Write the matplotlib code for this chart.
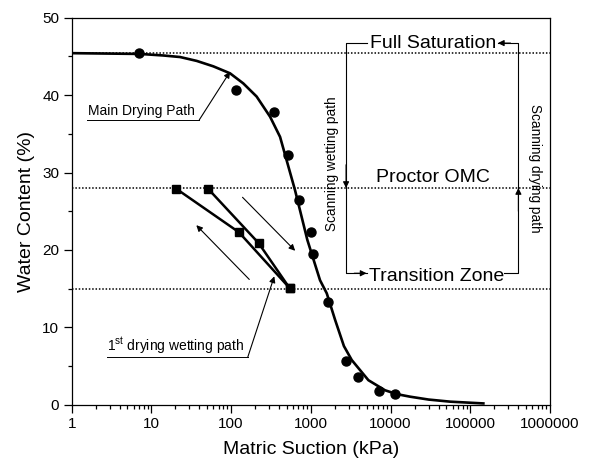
import numpy as np
import matplotlib
matplotlib.use('Agg')
import matplotlib.pyplot as plt
from matplotlib.ticker import FixedLocator, LogLocator, NullFormatter

plt.rcParams['font.family'] = ['Liberation Sans', 'DejaVu Sans']

# valeurs mesurees (courbe principale de sechage)
suction_meas = [7, 115, 349, 514, 701, 1012, 1052, 1643, 2773, 3950, 7240, 11400]
water_meas = [45.4, 40.6, 37.8, 32.2, 26.4, 22.3, 19.5, 13.3, 5.7, 3.6, 1.8, 1.4]

# courbe ajustee
fit_suction = [1, 7.2, 14.1, 22.9, 37, 59.8, 96.9, 142, 209, 308, 411, 634, 904,
               1304, 1585, 2013, 2600, 3260, 5270, 8520, 12000, 17600, 30000,
               55800, 146000]
fit_water = [45.4, 45.3, 45.1, 44.9, 44.4, 43.7, 42.8, 41.5, 39.8, 37.2, 34.6,
             27.7, 21.3, 16.1, 14.4, 11.0, 7.6, 5.8, 3.2, 1.9, 1.4, 1.07, 0.7,
             0.43, 0.2]

# premier cycle sechage / humidification
path1_suction = [20.5, 125, 540]
path1_water = [27.9, 22.3, 15.1]
path2_suction = [51.4, 221, 540]
path2_water = [27.9, 20.9, 15.1]

# niveaux de reference
full_sat = 45.4
proctor_omc = 28.0
transition = 15.0

x_ticks = [1, 10, 100, 1000, 10000, 100000, 1000000]
x_labels = ['1', '10', '100', '1000', '10000', '100000', '1000000']
y_ticks = [0, 10, 20, 30, 40, 50]

fig = plt.figure(figsize=(5.91, 4.67), dpi=100)
ax = fig.add_axes([0.1213, 0.1328, 0.8093, 0.8297])

# lignes horizontales pointillees
for lvl in [full_sat, proctor_omc, transition]:
    ax.axhline(lvl, color='black', linestyle=(0, (1, 1.2)), linewidth=1.1, zorder=1)

ax.plot(fit_suction, fit_water, color='black', linewidth=1.9, zorder=3)
ax.plot(suction_meas, water_meas, 'o', color='black', markersize=6.5, zorder=4)
ax.plot(path1_suction, path1_water, '-s', color='black', linewidth=1.8, markersize=5.8, zorder=4)
ax.plot(path2_suction, path2_water, '-s', color='black', linewidth=1.8, markersize=5.8, zorder=4)

arr = dict(arrowstyle='-|>', color='black', lw=0.8, mutation_scale=9, shrinkA=0, shrinkB=0)

# fleches de direction
ax.annotate('', xy=(636, 19.9), xytext=(139, 26.8), arrowprops=arr)
ax.annotate('', xy=(36.6, 23.2), xytext=(169, 16.2), arrowprops=arr)

# etiquette chemin principal
ax.text(1.58, 37.0, 'Main Drying Path', fontsize=10, ha='left', va='bottom')
ax.plot([1.54, 39.9], [36.8, 36.8], color='black', lw=0.7)
ax.annotate('', xy=(96.9, 43.0), xytext=(39.9, 36.8), arrowprops=arr)

# etiquette premier chemin
ax.text(2.8, 6.35, '1$^{\\mathregular{st}}$ drying wetting path', fontsize=10, ha='left', va='bottom')
ax.plot([2.75, 161.5], [6.15, 6.15], color='black', lw=0.7)
ax.annotate('', xy=(348, 16.6), xytext=(161.5, 6.15), arrowprops=arr)

# cadre de droite
xl, xr = 2766, 401600
ytop, ybot = 46.7, 17.0
ax.plot([5000, xl, xl, 5000], [ytop, ytop, ybot, ybot], color='black', lw=0.8)
ax.plot([262000, xr, xr, 222000], [ybot, ybot, ytop, ytop], color='black', lw=0.8)
ax.annotate('', xy=(xl, proctor_omc), xytext=(xl, 31), arrowprops=arr)
ax.annotate('', xy=(xr, proctor_omc), xytext=(xr, 25), arrowprops=arr)
ax.annotate('', xy=(5000, ybot), xytext=(3500, ybot), arrowprops=arr)
ax.annotate('', xy=(222000, ytop), xytext=(320000, ytop), arrowprops=arr)

ax.text(34000, ytop, 'Full Saturation', fontsize=14, ha='center', va='center')
ax.text(34400, 29.3, 'Proctor OMC', fontsize=14, ha='center', va='center')
ax.text(37500, 16.6, 'Transition Zone', fontsize=14, ha='center', va='center')
ax.text(1829, 31.2, 'Scanning wetting path', fontsize=9.8, rotation=90, ha='center', va='center')
ax.text(650000, 30.5, 'Scanning drying path', fontsize=9.8, rotation=270, ha='center', va='center')

ax.set_xscale('log')
ax.set_xlim(1, 1e6)
ax.set_ylim(0, 50)
ax.xaxis.set_major_locator(FixedLocator(x_ticks))
ax.set_xticklabels(x_labels)
ax.xaxis.set_minor_locator(LogLocator(base=10, subs=np.arange(2, 10)))
ax.xaxis.set_minor_formatter(NullFormatter())
ax.set_yticks(y_ticks)
ax.set_yticks([5, 15, 25, 35, 45], minor=True)

ax.tick_params(which='major', direction='out', length=5.5, width=0.9, labelsize=11)
ax.tick_params(which='minor', direction='out', length=3, width=0.9)
for s in ax.spines.values():
    s.set_linewidth(0.9)

ax.set_xlabel('Matric Suction (kPa)', fontsize=14, labelpad=7)
ax.set_ylabel('Water Content (%)', fontsize=14, labelpad=5)

fig.savefig('out.png', dpi=100)
